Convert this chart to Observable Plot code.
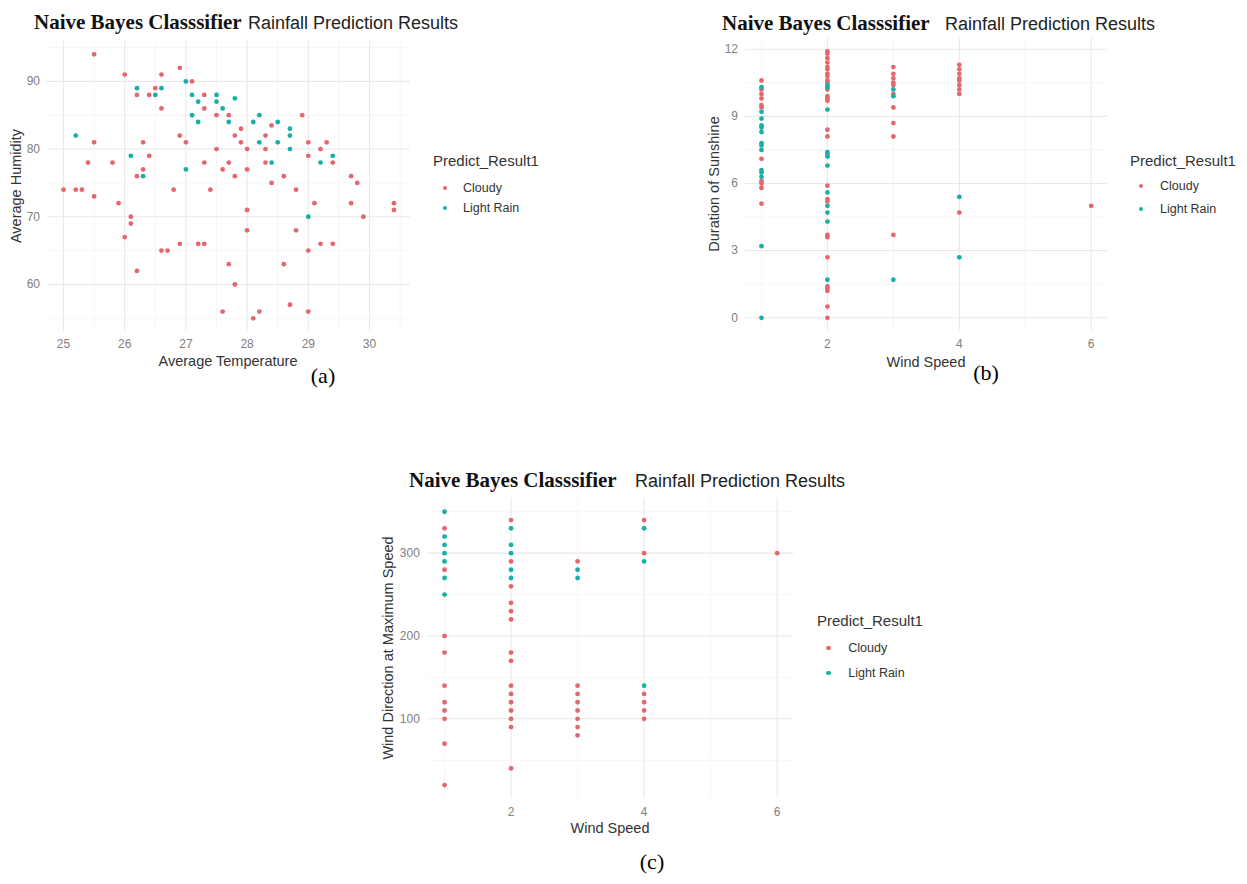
<!DOCTYPE html>
<html><head><meta charset="utf-8">
<script src="https://cdn.jsdelivr.net/npm/d3@7"></script>
<script src="https://cdn.jsdelivr.net/npm/@observablehq/plot@0.6"></script>
<style>
html,body{margin:0;padding:0;background:#fff;}
body{width:1247px;height:884px;position:relative;overflow:hidden;font-family:"Liberation Sans",Arial,sans-serif;}
.abs{position:absolute;white-space:nowrap;line-height:1;}
.pl{position:absolute;}
</style></head><body>
<script>
// ---------- data ----------
const classes = ["Cloudy", "Light Rain"];
const classColors = ["#E5676E", "#18AFA8"];
const legendTitle = "Predict_Result1";
const titleBold = "Naive Bayes Classsifier";
const titleRest = "Rainfall Prediction Results";

// (a) Average Temperature vs Average Humidity
const aCloudy = [[25.5,94],[26.0,91],[26.2,88],[26.4,88],[26.5,89],[26.6,91],[26.6,86],[26.9,92],[27.1,90],[27.3,88],[27.3,86],[27.5,85],[27.7,85],[26.9,82],[27.0,81],[25.5,81],[26.3,81],[26.4,79],[25.4,78],[25.8,78],[26.3,77],[26.2,76],[27.3,78],[27.5,80],[27.7,78],[27.6,77],[27.8,76],[25.0,74],[25.2,74],[25.3,74],[25.5,73],[26.8,74],[27.4,74],[25.9,72],[26.1,70],[26.1,69],[26.0,67],[26.6,65],[26.7,65],[26.9,66],[27.2,66],[27.3,66],[26.2,62],[27.7,63],[27.8,60],[27.6,56],[27.9,83],[27.8,82],[27.9,81],[28.0,80],[28.4,83.5],[28.3,82],[28.3,80],[28.9,85],[29.0,81],[29.3,81],[29.2,80],[29.0,79],[29.4,78],[28.0,77],[28.3,78],[28.6,76],[28.4,75],[28.8,74],[29.7,76],[29.8,75],[29.1,72],[29.7,72],[30.4,72],[30.4,71],[28.0,71],[29.9,70],[28.0,68],[28.8,68],[29.2,66],[29.4,66],[29.0,65],[28.6,63],[28.2,56],[28.1,55],[28.7,57],[29.0,56]];
const aLightRain = [[25.2,82],[26.2,89],[26.5,88],[26.6,89],[27.0,90],[27.1,88],[27.2,87],[27.5,88],[27.5,87],[27.6,86],[27.8,87.5],[27.1,85],[27.2,84],[27.7,84],[26.1,79],[26.3,76],[27.0,77],[28.1,84],[28.2,85],[28.5,84],[28.2,81],[28.5,81],[28.7,83],[28.7,82],[28.7,80],[29.4,79],[29.2,78],[28.4,78],[29.0,70]];
const aXTicks = [25,26,27,28,29,30], aXMinor = [25.5,26.5,27.5,28.5,29.5,30.5];
const aYTicks = [60,70,80,90], aYMinor = [55,65,75,85,95];

// (b) Wind Speed vs Duration of Sunshine
const bCloudy = [[1,10.6],[1,10.2],[1,10.0],[1,9.8],[1,9.5],[1,9.4],[1,7.1],[1,6.1],[1,6.0],[1,5.8],[1,5.1],
 [2,11.9],[2,11.8],[2,11.6],[2,11.4],[2,11.2],[2,11.1],[2,10.9],[2,10.8],[2,10.6],[2,10.5],[2,10.2],[2,9.9],[2,9.8],[2,9.7],[2,8.4],[2,8.1],[2,7.3],[2,5.9],[2,5.3],[2,5.2],[2,3.7],[2,3.6],[2,2.7],[2,1.4],[2,1.3],[2,1.2],[2,0.5],[2,0],
 [3,11.2],[3,10.9],[3,10.7],[3,10.5],[3,10.4],[3,10.0],[3,9.4],[3,8.7],[3,8.1],[3,3.7],
 [4,11.3],[4,11.1],[4,10.9],[4,10.7],[4,10.6],[4,10.4],[4,10.2],[4,10.0],[4,4.7],
 [6,5.0]];
const bLightRain = [[1,10.3],[1,9.2],[1,8.9],[1,8.6],[1,8.5],[1,8.3],[1,7.8],[1,7.7],[1,7.5],[1,6.6],[1,6.5],[1,6.3],[1,3.2],[1,0],
 [2,10.4],[2,10.3],[2,9.3],[2,7.4],[2,7.2],[2,6.8],[2,5.6],[2,5.0],[2,4.7],[2,4.3],[2,1.7],
 [3,10.2],[3,9.9],[3,1.7],
 [4,5.4],[4,2.7]];
const bXTicks = [2,4,6], bXMinor = [1,3,5];
const bYTicks = [0,3,6,9,12], bYMinor = [1.5,4.5,7.5,10.5];

// (c) Wind Speed vs Wind Direction at Maximum Speed
const cCloudy = [[1,330],[1,280],[1,200],[1,180],[1,140],[1,120],[1,110],[1,100],[1,70],[1,20],
 [2,340],[2,290],[2,260],[2,240],[2,230],[2,220],[2,180],[2,170],[2,140],[2,130],[2,120],[2,110],[2,100],[2,90],[2,40],
 [3,290],[3,140],[3,130],[3,120],[3,110],[3,100],[3,90],[3,80],
 [4,340],[4,300],[4,130],[4,120],[4,110],[4,100],
 [6,300]];
const cLightRain = [[1,350],[1,320],[1,310],[1,300],[1,290],[1,270],[1,250],
 [2,330],[2,310],[2,300],[2,280],[2,270],
 [3,280],[3,270],
 [4,330],[4,290],[4,140]];
const cXTicks = [2,4,6], cXMinor = [1,3,5];
const cYTicks = [100,200,300], cYMinor = [50,150,250,350];

// ---------- helpers ----------
const SANS = "'Liberation Sans', Arial, sans-serif";
const SERIF = "'Liberation Serif', 'Times New Roman', serif";

function expand(vals) {
  const [a, b] = d3.extent(vals);
  const p = (b - a) * 0.05;
  return [a - p, b + p];
}

function text(str, o) {
  const d = document.createElement("div");
  d.className = "abs";
  d.textContent = str;
  d.style.fontSize = o.size + "px";
  d.style.fontFamily = o.serif ? SERIF : SANS;
  d.style.fontWeight = o.bold ? "bold" : "normal";
  d.style.color = o.color || "#333";
  d.style.top = o.cy + "px";
  if (o.left != null) {
    d.style.left = o.left + "px";
    d.style.transform = "translateY(-50%)";
  } else {
    d.style.left = o.cx + "px";
    d.style.transform = "translate(-50%,-50%)" + (o.rotate ? " rotate(-90deg)" : "");
  }
  document.body.appendChild(d);
}

function dotKey(x, cy, color) {
  const s = document.createElement("div");
  s.className = "abs";
  s.style.left = (x - 2.4) + "px";
  s.style.top = (cy - 2.4) + "px";
  s.style.width = "4.8px";
  s.style.height = "4.8px";
  s.style.borderRadius = "50%";
  s.style.background = color;
  document.body.appendChild(s);
}

function panel(c) {
  const data = [
    ...c.cloudy.map(([x, y]) => ({x, y, k: classes[0]})),
    ...c.rain.map(([x, y]) => ({x, y, k: classes[1]}))
  ];
  const svg = Plot.plot({
    width: c.w, height: c.h,
    marginLeft: c.ml, marginRight: c.mr, marginTop: c.mt, marginBottom: c.mb,
    style: {background: "transparent", overflow: "visible", maxWidth: "none", color: "#808080", fontFamily: SANS, fontSize: "12px"},
    x: {domain: expand(data.map(d => d.x))},
    y: {domain: expand(data.map(d => d.y))},
    color: {domain: classes, range: classColors},
    marks: [
      Plot.ruleX(c.xMinor, {stroke: "#f2f2f2", strokeWidth: 0.7}),
      Plot.ruleY(c.yMinor, {stroke: "#f2f2f2", strokeWidth: 0.7}),
      Plot.ruleX(c.xTicks, {stroke: "#e9e9e9", strokeWidth: 1.1}),
      Plot.ruleY(c.yTicks, {stroke: "#e9e9e9", strokeWidth: 1.1}),
      Plot.axisX(c.xTicks, {tickSize: 0, tickPadding: c.xpad, fontSize: 12, label: null}),
      Plot.axisY(c.yTicks, {tickSize: 0, tickPadding: c.ypad, fontSize: 12, label: null}),
      Plot.dot(data, {x: "x", y: "y", fill: "k", r: 2.4})
    ]
  });
  const wrap = document.createElement("div");
  wrap.className = "pl";
  wrap.style.left = c.left + "px";
  wrap.style.top = c.top + "px";
  wrap.appendChild(svg);
  document.body.appendChild(wrap);

  // titles
  text(titleBold, {left: c.t1x, cy: c.tb - 0.3375 * 21, size: 21, serif: true, bold: true, color: "#111"});
  text(titleRest, {left: c.t2x, cy: c.tb - 0.3465 * 18, size: 18, color: "#222"});
  // axis titles
  text(c.xLabel, {cx: c.xl[0], cy: c.xl[1], size: 14.5, color: "#333"});
  text(c.yLabel, {cx: c.yl[0], cy: c.yl[1], size: 14.5, color: "#333", rotate: true});
  // legend
  text(legendTitle, {left: c.lg.x, cy: c.lg.ty, size: 15, color: "#333"});
  c.lg.ys.forEach((y, i) => {
    dotKey(c.lg.dx, y, classColors[i]);
    text(classes[i], {left: c.lg.tx, cy: y, size: 12.5, color: "#333"});
  });
  // caption
  text(c.cap, {cx: c.capPos[0], cy: c.capPos[1], size: 22, serif: true, color: "#000"});
}

panel({
  cloudy: aCloudy, rain: aLightRain,
  xTicks: aXTicks, xMinor: aXMinor, yTicks: aYTicks, yMinor: aYMinor,
  left: 0, top: 0, w: 420, h: 380, ml: 46.5, mr: 10, mt: 40.6, mb: 49, xpad: 8, ypad: 7,
  t1x: 34, t2x: 248, tb: 29.3,
  xLabel: "Average Temperature", xl: [228, 361],
  yLabel: "Average Humidity", yl: [16, 186],
  lg: {x: 433, ty: 160, dx: 445, tx: 463, ys: [188, 208]},
  cap: "(a)", capPos: [323, 376]
});

panel({
  cloudy: bCloudy, rain: bLightRain,
  xTicks: bXTicks, xMinor: bXMinor, yTicks: bYTicks, yMinor: bYMinor,
  left: 700, top: 0, w: 420, h: 380, ml: 44.5, mr: 12.8, mt: 37.6, mb: 49.4, xpad: 8, ypad: 7,
  t1x: 722, t2x: 945, tb: 30.5,
  xLabel: "Wind Speed", xl: [926, 362],
  yLabel: "Duration of Sunshine", yl: [714, 184],
  lg: {x: 1130, ty: 160, dx: 1141, tx: 1160, ys: [186, 209]},
  cap: "(b)", capPos: [986, 373]
});

panel({
  cloudy: cCloudy, rain: cLightRain,
  xTicks: cXTicks, xMinor: cXMinor, yTicks: cYTicks, yMinor: cYMinor,
  left: 380, top: 460, w: 420, h: 390, ml: 47.4, mr: 6.7, mt: 37.6, mb: 51.8, xpad: 9, ypad: 8,
  t1x: 409, t2x: 635, tb: 487,
  xLabel: "Wind Speed", xl: [610, 828],
  yLabel: "Wind Direction at Maximum Speed", yl: [387.5, 648],
  lg: {x: 817, ty: 620, dx: 828.3, tx: 848.3, ys: [648, 673]},
  cap: "(c)", capPos: [652, 862]
});
</script>
</body></html>
